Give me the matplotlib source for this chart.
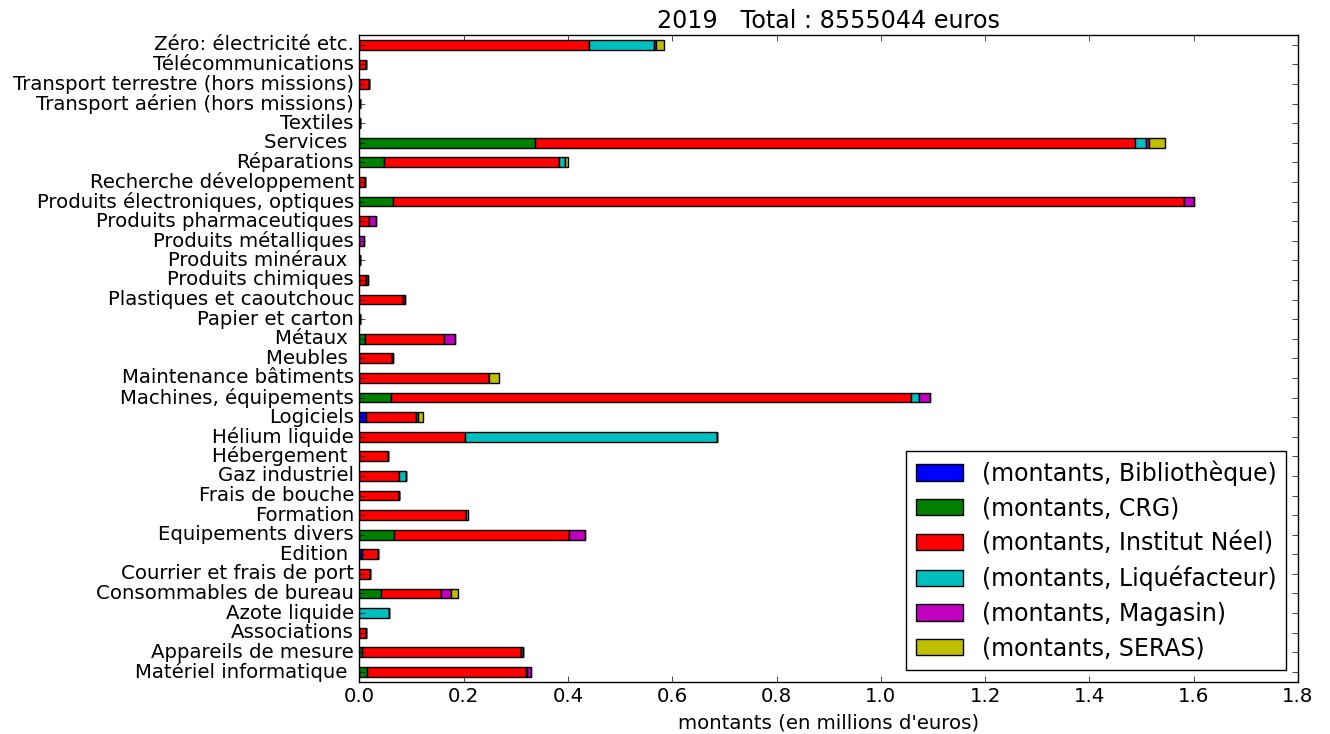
import numpy as np
import matplotlib
matplotlib.use("Agg")
import matplotlib.pyplot as plt

plt.style.use("classic")
plt.rcParams["figure.facecolor"] = "white"
plt.rcParams["savefig.facecolor"] = "white"

# categories, bottom to top
categories = ["Matériel informatique ", "Appareils de mesure", "Associations", "Azote liquide",
              "Consommables de bureau", "Courrier et frais de port", "Edition ", "Equipements divers",
              "Formation", "Frais de bouche", "Gaz industriel", "Hébergement ", "Hélium liquide",
              "Logiciels", "Machines, équipements", "Maintenance bâtiments", "Meubles ", "Métaux ",
              "Papier et carton", "Plastiques et caoutchouc", "Produits chimiques", "Produits minéraux ",
              "Produits métalliques", "Produits pharmaceutiques", "Produits électroniques, optiques",
              "Recherche développement", "Réparations", "Services ", "Textiles",
              "Transport aérien (hors missions)", "Transport terrestre (hors missions)",
              "Télécommunications", "Zéro: électricité etc."]

# montants en millions d'euros, un tableau par service
bibliotheque = [0, 0, 0, 0, 0, 0, 0.004, 0, 0, 0, 0, 0, 0, 0.013, 0, 0, 0, 0,
                0, 0, 0, 0, 0, 0, 0, 0, 0, 0, 0, 0, 0, 0, 0]
crg = [0.014, 0.004, 0, 0, 0.041, 0, 0, 0.066, 0, 0, 0, 0, 0, 0, 0.060, 0, 0, 0.010,
       0, 0, 0, 0, 0, 0, 0.065, 0, 0.047, 0.337, 0, 0, 0, 0, 0]
institut_neel = [0.306, 0.306, 0.012, 0, 0.115, 0.020, 0.031, 0.335, 0.205, 0.075, 0.075, 0.055,
                 0.202, 0.095, 0.998, 0.248, 0.063, 0.153, 0.001, 0.083, 0.012, 0.001, 0,
                 0.019, 1.517, 0.011, 0.335, 1.151, 0.0005, 0.001, 0.019, 0.013, 0.440]
liquefacteur = [0.002, 0.004, 0, 0.057, 0, 0, 0, 0, 0, 0, 0.015, 0, 0.483, 0.004, 0.015, 0, 0, 0,
                0, 0, 0, 0, 0, 0, 0, 0, 0.013, 0.020, 0, 0, 0, 0, 0.124]
magasin = [0.006, 0, 0, 0, 0.020, 0.001, 0, 0.031, 0, 0, 0, 0, 0, 0, 0.021, 0, 0.001, 0.020,
           0, 0.005, 0.005, 0, 0.008, 0.013, 0.019, 0, 0, 0.007, 0, 0, 0, 0, 0.005]
seras = [0, 0, 0, 0, 0.012, 0, 0, 0.001, 0.004, 0, 0, 0, 0, 0.010, 0, 0.019, 0, 0,
         0, 0, 0, 0, 0, 0, 0, 0, 0.004, 0.030, 0, 0, 0, 0, 0.016]

series = [("(montants, Bibliothèque)", bibliotheque, "b"),
          ("(montants, CRG)", crg, "g"),
          ("(montants, Institut Néel)", institut_neel, "r"),
          ("(montants, Liquéfacteur)", liquefacteur, "c"),
          ("(montants, Magasin)", magasin, "m"),
          ("(montants, SERAS)", seras, "y")]

fig = plt.figure(figsize=(13.3, 7.34), dpi=100)
ax = fig.add_axes([0.2703, 0.0713, 0.7056, 0.8810])

y = np.arange(len(categories))
left = np.zeros(len(categories))
for name, vals, col in series:
    vals = np.array(vals)
    ax.barh(y, vals, height=0.5, left=left, color=col, edgecolor="k", label=name, align="center")
    left += vals

ax.set_yticks(y)
ax.set_yticklabels(categories, fontsize=14.2)
ax.set_ylim(-0.5, len(categories) - 0.5)
ax.set_xlim(0, 1.8)
ax.tick_params(axis="x", labelsize=14.2)
ax.set_xlabel("montants (en millions d'euros)", fontsize=14.2)
ax.set_title("2019   Total : 8555044 euros", fontsize=17.2)
ax.legend(loc="lower right", fontsize=17, labelspacing=0.45)

fig.savefig("out.png", dpi=100)
